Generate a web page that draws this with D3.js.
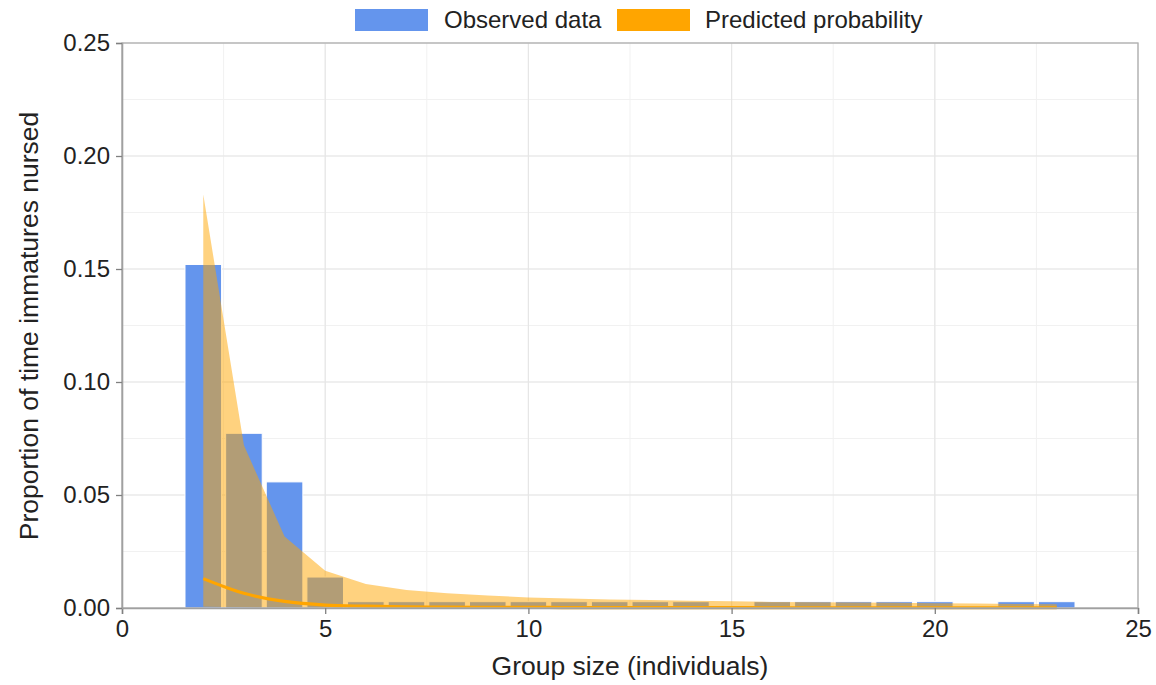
<!DOCTYPE html>
<html><head><meta charset="utf-8">
<script src="https://cdn.jsdelivr.net/npm/d3@7"></script>
<style>body{margin:0;background:#fff}svg{display:block}text{font-family:"Liberation Sans",Arial,sans-serif;fill:#222}</style>
</head><body><svg id="c" width="1156" height="685"></svg>
<script>
// Observed bars
const barSizes = [2,3,4,5,6,7,8,9,10,11,12,13,14,16,17,18,19,20,22,23];
const barValues = [0.152,0.0773,0.0558,0.0137,0.0028,0.0028,0.0028,0.0028,0.0028,0.0028,0.0028,0.0028,0.0028,0.0028,0.0028,0.0028,0.0028,0.0028,0.0028,0.0028];
// Predicted probability
const predSizes = [2,3,4,5,6,7,8,9,10,11,12,13,14,15,16,17,18,19,20,21,22,23];
const predUpper = [0.183,0.072,0.0316,0.0165,0.0106,0.008,0.0065,0.0055,0.0047,0.0042,0.0038,0.0035,0.0032,0.003,0.0027,0.0025,0.0024,0.0023,0.0021,0.002,0.0018,0.0017];
const predLower = [0.0005,0.0003,0.0002,0.0001,0,0,0,0,0,0,0,0,0,0,0,0,0,0,0,0,0,0];
const predMean  = [0.013,0.0065,0.0029,0.0013,0.0008,0.0005,0.0004,0.0003,0.0003,0.0002,0.0002,0.0002,0.0002,0.0002,0.0001,0.0001,0.0001,0.0001,0.0001,0.0001,0.0001,0.0001];
const xTicks = [0,5,10,15,20,25];
const yTicks = [0,0.05,0.10,0.15,0.20,0.25];
const legendLabels = ["Observed data","Predicted probability"];
const colors = {obs:"#6495ED", pred:"#FFA500"};

const svg = d3.select("#c");
const L=122,R=1138,T=43,B=608;
const x = d3.scaleLinear().domain([0,25]).range([L,R]);
const y = d3.scaleLinear().domain([0,0.25]).range([B,T]);

// grid
const g = svg.append("g");
const minorX = d3.range(0,25.01,2.5), minorY = d3.range(0,0.2501,0.025);
g.selectAll(".mx").data(minorX).enter().append("line").attr("x1",d=>x(d)).attr("x2",d=>x(d)).attr("y1",T).attr("y2",B).attr("stroke","#f1f1f1").attr("stroke-width",1);
g.selectAll(".my").data(minorY).enter().append("line").attr("y1",d=>y(d)).attr("y2",d=>y(d)).attr("x1",L).attr("x2",R).attr("stroke","#f1f1f1").attr("stroke-width",1);
g.selectAll(".Mx").data(xTicks).enter().append("line").attr("x1",d=>x(d)).attr("x2",d=>x(d)).attr("y1",T).attr("y2",B).attr("stroke","#e6e6e6").attr("stroke-width",1.2);
g.selectAll(".My").data(yTicks).enter().append("line").attr("y1",d=>y(d)).attr("y2",d=>y(d)).attr("x1",L).attr("x2",R).attr("stroke","#e6e6e6").attr("stroke-width",1.2);

// bars
const bw = 0.9;
svg.append("g").selectAll("rect").data(barSizes.map((s,i)=>({s,v:barValues[i]}))).enter().append("rect")
  .attr("x",d=>x(d.s-bw/2)).attr("width",d=>x(d.s+bw/2)-x(d.s-bw/2))
  .attr("y",d=>y(d.v)).attr("height",d=>y(0)-y(d.v))
  .attr("fill",colors.obs).attr("stroke","#fff").attr("stroke-width",1);

// ribbon
const pd = predSizes.map((s,i)=>({s,u:predUpper[i],l:predLower[i],m:predMean[i]}));
svg.append("path").datum(pd).attr("d",d3.area().x(d=>x(d.s)).y0(d=>y(d.l)).y1(d=>y(d.u)))
  .attr("fill",colors.pred).attr("fill-opacity",0.5);
svg.append("path").datum(pd).attr("d",d3.line().x(d=>x(d.s)).y(d=>y(d.m)).curve(d3.curveMonotoneX))
  .attr("fill","none").attr("stroke",colors.pred).attr("stroke-width",3.2);

// border
svg.append("rect").attr("x",L).attr("y",T).attr("width",R-L).attr("height",B-T).attr("fill","none").attr("stroke","#b0b0b0").attr("stroke-width",1.3);

// axes
const xa = svg.append("g").attr("transform",`translate(0,${B})`).call(d3.axisBottom(x).tickValues(xTicks).tickFormat(d3.format("d")).tickSize(6).tickPadding(6));
const ya = svg.append("g").attr("transform",`translate(${L},0)`).call(d3.axisLeft(y).tickValues(yTicks).tickFormat(d3.format(".2f")).tickSize(6).tickPadding(6));
[xa,ya].forEach(a=>{a.select(".domain").attr("stroke","#a0a0a0").attr("stroke-width",1.6);
  a.selectAll(".tick line").attr("stroke","#808080").attr("stroke-width",1.3);
  a.selectAll(".tick text").attr("font-size",24).attr("fill","#222").attr("font-family","Liberation Sans, Arial, sans-serif");});

// titles
svg.append("text").attr("x",630).attr("y",675).attr("text-anchor","middle").attr("font-size",26.5).text("Group size (individuals)");
svg.append("text").attr("transform",`translate(38,326) rotate(-90)`).attr("text-anchor","middle").attr("font-size",26.5).text("Proportion of time immatures nursed");

// legend
const lg = svg.append("g");
const lx=[355,617], tx=[444,705];
[colors.obs,colors.pred].forEach((c,i)=>{
  lg.append("rect").attr("x",lx[i]).attr("y",9).attr("width",73).attr("height",22).attr("fill",c);
  lg.append("text").attr("x",tx[i]).attr("y",28).attr("font-size",24).text(legendLabels[i]);
});
</script></body></html>
